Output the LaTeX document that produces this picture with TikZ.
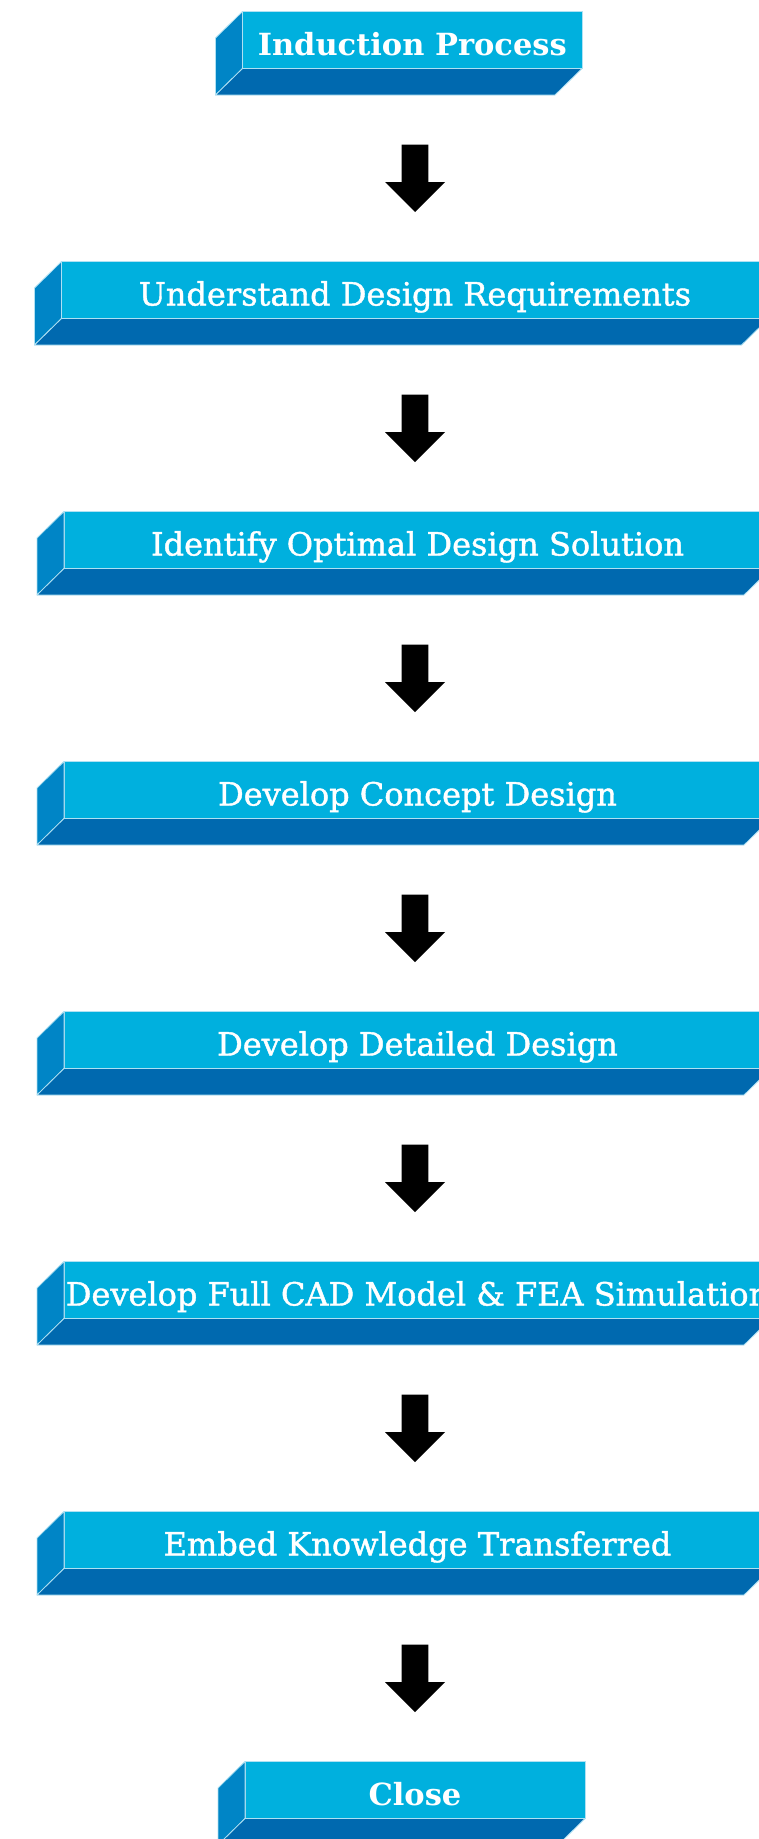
\documentclass[tikz,border=0pt]{standalone}
\usepackage{fontspec}
\newfontfamily\slab[FakeBold=1.3]{DejaVu Serif}
\newfontfamily\slabbold{DejaVu Serif Bold}
\definecolor{facefront}{RGB}{0,176,222}
\definecolor{facebottom}{RGB}{0,105,175}
\definecolor{faceleft}{RGB}{0,133,198}
\definecolor{edgec}{RGB}{175,225,243}
\tikzset{
  front/.style={fill=facefront, draw=edgec, line width=0.8pt, inner sep=0pt, outer sep=0pt,
    minimum height=57pt, anchor=north west, text=white, text height=31pt, text depth=0pt,
    font=\slab\fontsize{32}{36}\selectfont},
  boldfront/.style={front, font=\slabbold\fontsize{30.5}{36}\selectfont},
  leftface/.style={fill=faceleft, draw=edgec, line width=0.8pt, line join=round},
  bottomface/.style={fill=facebottom, draw=edgec, line width=0.8pt, line join=round},
  blockarrow/.style={fill=black}
}
\newcommand\cuboidbox[6]{%
  \node[#5, minimum width=#4pt] (#1) at (#2,#3) {#6};
  \path[leftface] (#1.north west) -- ++(-27,26.5) -- ++(0,57) -- (#1.south west) -- cycle;
  \path[bottomface] (#1.south west) -- (#1.south east) -- ++(-27,26.5) -- ++(-#4,0) -- cycle;
}
\newcommand\blockarrowat[1]{%
  \fill[blockarrow] (#1) +(-13.4,0) -- +(13.4,0) -- +(13.4,37.5) -- +(30,37.5) -- +(0,67.5)
    -- +(-30,37.5) -- +(-13.4,37.5) -- cycle;
}
\begin{document}
\begin{tikzpicture}[x=1pt,y=-1pt]
\useasboundingbox[fill=white] (0,0) rectangle (759,1839);
\cuboidbox{b1}{242.5}{11.5}{339.5}{boldfront}{Induction Process}
\cuboidbox{b2}{61.5}{261.5}{707}{front}{Understand Design Requirements}
\cuboidbox{b3}{64}{511.5}{707}{front}{Identify Optimal Design Solution}
\cuboidbox{b4}{64}{761.5}{707}{front}{Develop Concept Design}
\cuboidbox{b5}{64}{1011.5}{707}{front}{Develop Detailed Design}
\cuboidbox{b6}{64}{1261.5}{707}{front}{Develop Full CAD Model \& FEA Simulation}
\cuboidbox{b7}{64}{1511.5}{707}{front}{Embed Knowledge Transferred}
\cuboidbox{b8}{245}{1761.5}{340}{boldfront}{Close}
\foreach \i in {0,...,6} {
  \coordinate (a\i) at (415,144.5+250*\i);
  \blockarrowat{a\i}
}
\end{tikzpicture}
\end{document}
